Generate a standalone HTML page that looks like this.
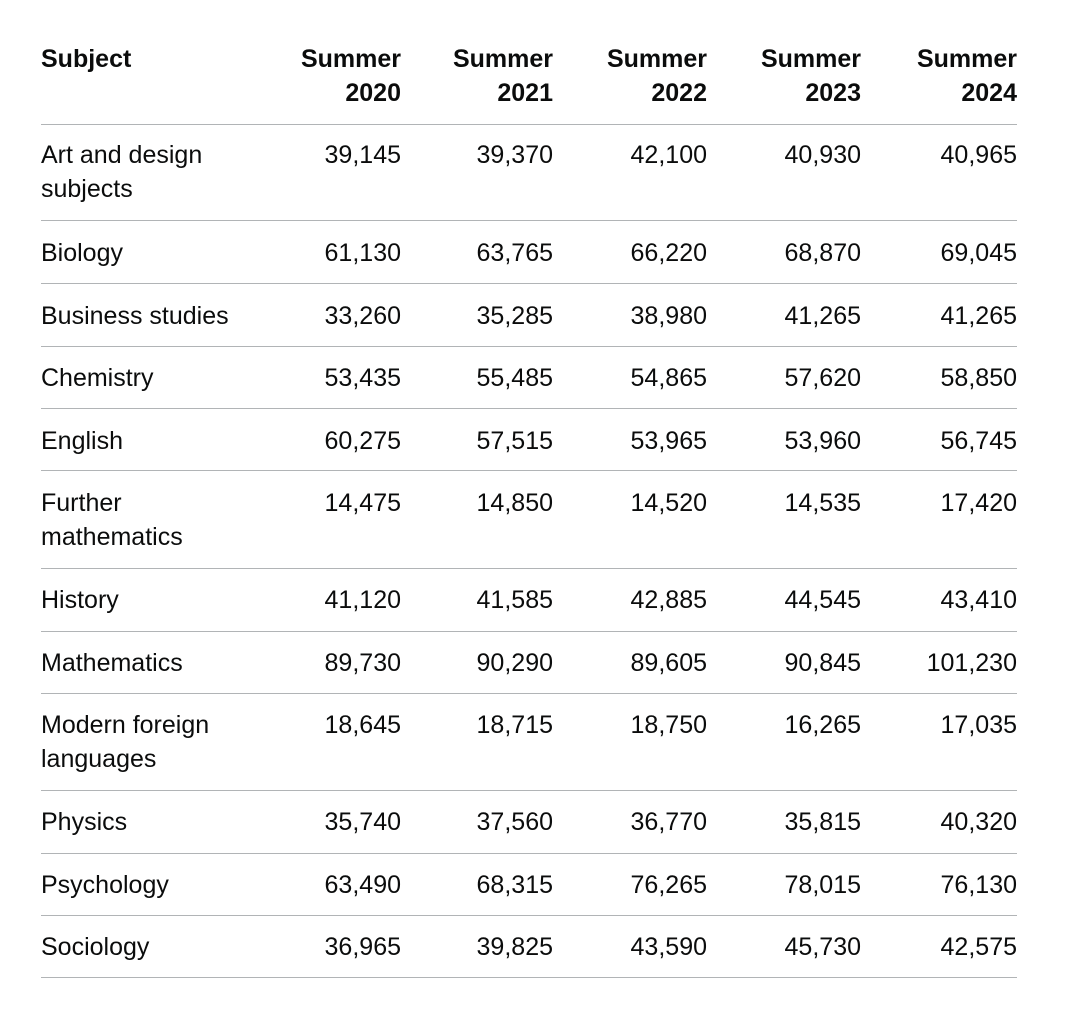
<!DOCTYPE html>
<html>
<head>
<meta charset="utf-8">
<style>
html,body{margin:0;padding:0;background:#fff;}
body{width:1080px;height:1022px;position:relative;overflow:hidden;
font-family:"Liberation Sans",Arial,sans-serif;color:#0b0c0c;font-size:25px;line-height:34px;}
.t{position:absolute;white-space:nowrap;}
.b{font-weight:bold;}
.r{text-align:right;}
.ln{position:absolute;left:41px;width:976px;height:1px;background:#b1b4b6;}
</style>
</head>
<body>
<!-- header -->
<div class="t b" style="left:41px;top:42px;">Subject</div>
<div class="t b r" style="right:679px;top:42px;">Summer<br>2020</div>
<div class="t b r" style="right:527px;top:42px;">Summer<br>2021</div>
<div class="t b r" style="right:373px;top:42px;">Summer<br>2022</div>
<div class="t b r" style="right:219px;top:42px;">Summer<br>2023</div>
<div class="t b r" style="right:63px;top:42px;">Summer<br>2024</div>
<div class="ln" style="top:124px;"></div>

<!-- Art -->
<div class="t" style="left:41px;top:138px;">Art and design<br>subjects</div>
<div class="t r" style="right:679px;top:138px;">39,145</div>
<div class="t r" style="right:527px;top:138px;">39,370</div>
<div class="t r" style="right:373px;top:138px;">42,100</div>
<div class="t r" style="right:219px;top:138px;">40,930</div>
<div class="t r" style="right:63px;top:138px;">40,965</div>
<div class="ln" style="top:220px;"></div>

<!-- Biology -->
<div class="t" style="left:41px;top:236px;">Biology</div>
<div class="t r" style="right:679px;top:236px;">61,130</div>
<div class="t r" style="right:527px;top:236px;">63,765</div>
<div class="t r" style="right:373px;top:236px;">66,220</div>
<div class="t r" style="right:219px;top:236px;">68,870</div>
<div class="t r" style="right:63px;top:236px;">69,045</div>
<div class="ln" style="top:283px;"></div>

<!-- Business -->
<div class="t" style="left:41px;top:299px;">Business studies</div>
<div class="t r" style="right:679px;top:299px;">33,260</div>
<div class="t r" style="right:527px;top:299px;">35,285</div>
<div class="t r" style="right:373px;top:299px;">38,980</div>
<div class="t r" style="right:219px;top:299px;">41,265</div>
<div class="t r" style="right:63px;top:299px;">41,265</div>
<div class="ln" style="top:346px;"></div>

<!-- Chemistry -->
<div class="t" style="left:41px;top:361px;">Chemistry</div>
<div class="t r" style="right:679px;top:361px;">53,435</div>
<div class="t r" style="right:527px;top:361px;">55,485</div>
<div class="t r" style="right:373px;top:361px;">54,865</div>
<div class="t r" style="right:219px;top:361px;">57,620</div>
<div class="t r" style="right:63px;top:361px;">58,850</div>
<div class="ln" style="top:408px;"></div>

<!-- English -->
<div class="t" style="left:41px;top:424px;">English</div>
<div class="t r" style="right:679px;top:424px;">60,275</div>
<div class="t r" style="right:527px;top:424px;">57,515</div>
<div class="t r" style="right:373px;top:424px;">53,965</div>
<div class="t r" style="right:219px;top:424px;">53,960</div>
<div class="t r" style="right:63px;top:424px;">56,745</div>
<div class="ln" style="top:470px;"></div>

<!-- Further maths -->
<div class="t" style="left:41px;top:486px;">Further<br>mathematics</div>
<div class="t r" style="right:679px;top:486px;">14,475</div>
<div class="t r" style="right:527px;top:486px;">14,850</div>
<div class="t r" style="right:373px;top:486px;">14,520</div>
<div class="t r" style="right:219px;top:486px;">14,535</div>
<div class="t r" style="right:63px;top:486px;">17,420</div>
<div class="ln" style="top:568px;"></div>

<!-- History -->
<div class="t" style="left:41px;top:583px;">History</div>
<div class="t r" style="right:679px;top:583px;">41,120</div>
<div class="t r" style="right:527px;top:583px;">41,585</div>
<div class="t r" style="right:373px;top:583px;">42,885</div>
<div class="t r" style="right:219px;top:583px;">44,545</div>
<div class="t r" style="right:63px;top:583px;">43,410</div>
<div class="ln" style="top:631px;"></div>

<!-- Mathematics -->
<div class="t" style="left:41px;top:646px;">Mathematics</div>
<div class="t r" style="right:679px;top:646px;">89,730</div>
<div class="t r" style="right:527px;top:646px;">90,290</div>
<div class="t r" style="right:373px;top:646px;">89,605</div>
<div class="t r" style="right:219px;top:646px;">90,845</div>
<div class="t r" style="right:63px;top:646px;">101,230</div>
<div class="ln" style="top:693px;"></div>

<!-- MFL -->
<div class="t" style="left:41px;top:708px;">Modern foreign<br>languages</div>
<div class="t r" style="right:679px;top:708px;">18,645</div>
<div class="t r" style="right:527px;top:708px;">18,715</div>
<div class="t r" style="right:373px;top:708px;">18,750</div>
<div class="t r" style="right:219px;top:708px;">16,265</div>
<div class="t r" style="right:63px;top:708px;">17,035</div>
<div class="ln" style="top:790px;"></div>

<!-- Physics -->
<div class="t" style="left:41px;top:805px;">Physics</div>
<div class="t r" style="right:679px;top:805px;">35,740</div>
<div class="t r" style="right:527px;top:805px;">37,560</div>
<div class="t r" style="right:373px;top:805px;">36,770</div>
<div class="t r" style="right:219px;top:805px;">35,815</div>
<div class="t r" style="right:63px;top:805px;">40,320</div>
<div class="ln" style="top:853px;"></div>

<!-- Psychology -->
<div class="t" style="left:41px;top:868px;">Psychology</div>
<div class="t r" style="right:679px;top:868px;">63,490</div>
<div class="t r" style="right:527px;top:868px;">68,315</div>
<div class="t r" style="right:373px;top:868px;">76,265</div>
<div class="t r" style="right:219px;top:868px;">78,015</div>
<div class="t r" style="right:63px;top:868px;">76,130</div>
<div class="ln" style="top:915px;"></div>

<!-- Sociology -->
<div class="t" style="left:41px;top:930px;">Sociology</div>
<div class="t r" style="right:679px;top:930px;">36,965</div>
<div class="t r" style="right:527px;top:930px;">39,825</div>
<div class="t r" style="right:373px;top:930px;">43,590</div>
<div class="t r" style="right:219px;top:930px;">45,730</div>
<div class="t r" style="right:63px;top:930px;">42,575</div>
<div class="ln" style="top:977px;"></div>
</body>
</html>
